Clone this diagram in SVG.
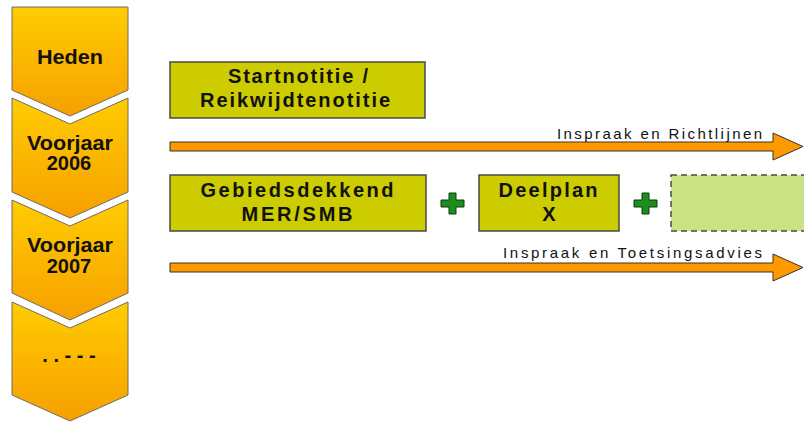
<svg xmlns="http://www.w3.org/2000/svg" width="804" height="423" viewBox="0 0 804 423">
<defs>
<linearGradient id="chev" x1="0" y1="0" x2="0" y2="1">
<stop offset="0" stop-color="#FFCC00"/>
<stop offset="1" stop-color="#F7A000"/>
</linearGradient>
</defs>
<style>
.chev{fill:url(#chev);stroke:#6b6b6b;stroke-width:1}
.ct{font-family:"Liberation Sans",Arial,sans-serif;font-weight:bold;font-size:20px;fill:#111;text-anchor:middle}
.box{fill:#CCCC00;stroke:#4a4a4a;stroke-width:1.5}
.dbox{fill:#CCE385;stroke:#4a4a4a;stroke-width:1.5;stroke-dasharray:6 4}
.bt{font-family:"Liberation Sans",Arial,sans-serif;font-weight:bold;font-size:20px;fill:#111;text-anchor:middle}
.arr{fill:#FF9900;stroke:#333;stroke-width:1}
.at{font-family:"Liberation Sans",Arial,sans-serif;font-size:15px;fill:#111}
.plus{fill:#1E8C1E;stroke:#0c3a0c;stroke-width:1}
</style>
<g id="chevron-heden">
<path class="chev" d="M12,7 H128 V90 L70,116 L12,90 Z"/>
<text class="ct" x="70" y="64" textLength="66" lengthAdjust="spacingAndGlyphs">Heden</text>
</g>
<g id="chevron-2006">
<path class="chev" d="M12,98 L70,124 L128,98 V192 L70,218 L12,192 Z"/>
<text class="ct" x="70" y="150" textLength="86" lengthAdjust="spacingAndGlyphs">Voorjaar</text>
<text class="ct" x="69" y="170">2006</text>
</g>
<g id="chevron-2007">
<path class="chev" d="M12,200 L70,226 L128,200 V293 L70,320 L12,293 Z"/>
<text class="ct" x="70" y="252" textLength="86" lengthAdjust="spacingAndGlyphs">Voorjaar</text>
<text class="ct" x="69" y="273">2007</text>
</g>
<g id="chevron-more">
<path class="chev" d="M12,302 L70,328 L128,302 V395 L70,421 L12,395 Z"/>
<text class="ct" x="69" y="362" font-size="14">. . - - -</text>
</g>
<g id="startnotitie">
<rect class="box" x="170" y="62" width="255" height="56"/>
<text class="bt" x="298" y="83" textLength="140" lengthAdjust="spacing">Startnotitie /</text>
<text class="bt" x="295" y="107" textLength="190" lengthAdjust="spacing">Reikwijdtenotitie</text>
</g>
<g id="gebiedsdekkend">
<rect class="box" x="170" y="175" width="256" height="56"/>
<text class="bt" x="297" y="197" textLength="193" lengthAdjust="spacing">Gebiedsdekkend</text>
<text class="bt" x="297" y="221" textLength="111" lengthAdjust="spacing">MER/SMB</text>
</g>
<g id="deelplan">
<rect class="box" x="479" y="175" width="140" height="56"/>
<text class="bt" x="548" y="197" textLength="99" lengthAdjust="spacing">Deelplan</text>
<text class="bt" x="549" y="221">X</text>
</g>
<g id="next-deelplan">
<rect class="dbox" x="671" y="175" width="140" height="56"/>
</g>
<g id="plus-1">
<path class="plus" d="M449,193 h7 v7 h8 v7 h-8 v7 h-7 v-7 h-8 v-7 h8 Z"/>
</g>
<g id="plus-2">
<path class="plus" d="M642,193 h7 v7 h8 v7 h-8 v7 h-7 v-7 h-8 v-7 h8 Z"/>
</g>
<g id="connectors">
<path class="arr" d="M170,142 H773 V133 L803,146.5 L773,160 V151 H170 Z"/>
<text class="at" x="557" y="139" textLength="205" lengthAdjust="spacing">Inspraak en Richtlijnen</text>
<path class="arr" d="M170,263 H773 V254 L803,267.5 L773,281 V272 H170 Z"/>
<text class="at" x="503" y="258" textLength="259" lengthAdjust="spacing">Inspraak en Toetsingsadvies</text>
</g>
</svg>
